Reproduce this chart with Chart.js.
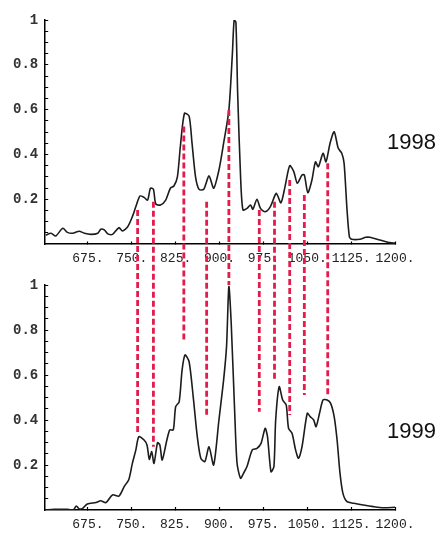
<!DOCTYPE html>
<html>
<head>
<meta charset="utf-8">
<script src="https://cdn.jsdelivr.net/npm/chart.js@4.4.1/dist/chart.umd.min.js"></script>
<style>
  body { margin: 0; background: #fff; }
  #wrap { position: relative; width: 440px; height: 533px; }
  #spectra { position: absolute; left: 0; top: 0; }
  .year { position: absolute; left: 387px; font: 22px "Liberation Sans", Arial, sans-serif; color: #111; }
</style>
</head>
<body>
<div id="wrap">
  <canvas id="spectra" width="440" height="533"></canvas>
  <div class="year" style="top:129px">1998</div>
  <div class="year" style="top:418px">1999</div>
</div>
<script>
const xTickValues = [675, 750, 825, 900, 975, 1050, 1125, 1200];
const yTickValues = [0.2, 0.4, 0.6, 0.8, 1];
const yTickLabels = ["0.2", "0.4", "0.6", "0.8", "1"];
const yMinorTicks = [0.05, 0.1, 0.15, 0.25, 0.3, 0.35, 0.45, 0.5, 0.55, 0.65, 0.7, 0.75, 0.85, 0.9, 0.95];

// 1998 spectrum
const wave1998 = [603, 612, 620, 632, 640, 649, 660, 669, 680, 692, 697, 703, 709, 717, 728, 734, 743, 751, 757, 764,
  771, 777, 782, 787, 791, 799, 808, 816, 822, 828, 833, 840, 848, 853, 859, 865, 873, 882, 890, 899,
  907, 916, 922, 925, 928, 931, 936, 940, 947, 953, 957, 964, 970, 978, 987, 997, 1005, 1012, 1020, 1027,
  1033, 1041, 1045, 1051, 1058, 1064, 1069, 1077, 1082, 1089, 1096, 1103, 1109, 1113, 1118, 1122, 1126, 1140, 1150, 1157,
  1174, 1191, 1200];
const int1998 = [0.04, 0.048, 0.036, 0.07, 0.052, 0.048, 0.057, 0.048, 0.043, 0.048, 0.066, 0.063, 0.045, 0.043, 0.073, 0.058, 0.077, 0.122, 0.167, 0.214,
  0.208, 0.196, 0.249, 0.244, 0.179, 0.174, 0.196, 0.249, 0.259, 0.30, 0.434, 0.583, 0.571, 0.45, 0.30, 0.244, 0.244, 0.304, 0.249, 0.33,
  0.45, 0.598, 0.85, 1.0, 0.99, 0.673, 0.30, 0.152, 0.159, 0.174, 0.155, 0.20, 0.159, 0.144, 0.167, 0.226, 0.184, 0.256, 0.35, 0.323,
  0.271, 0.308, 0.308, 0.229, 0.286, 0.367, 0.345, 0.405, 0.367, 0.45, 0.501, 0.427, 0.405, 0.36, 0.152, 0.033, 0.021, 0.021, 0.03, 0.03,
  0.018, 0.006, 0.004];

// 1999 spectrum
const wave1999 = [601, 617, 640, 650, 655, 660, 666, 674, 689, 697, 706, 717, 728, 737, 745, 751, 757, 762, 771, 776,
  780, 784, 788, 794, 798, 802, 810, 815, 821, 825, 831, 836, 841, 848, 855, 862, 868, 875, 882, 890,
  899, 907, 912, 916, 920, 926, 930, 936, 941, 947, 956, 964, 971, 978, 982, 988, 993, 996, 1002, 1008,
  1014, 1018, 1024, 1030, 1035, 1041, 1050, 1055, 1061, 1065, 1071, 1077, 1084, 1090, 1096, 1101, 1106, 1111, 1118, 1129,
  1146, 1163, 1180, 1200];
const int1999 = [0.0, 0.003, 0.003, 0.0, 0.018, 0.005, 0.007, 0.027, 0.033, 0.041, 0.033, 0.067, 0.062, 0.104, 0.136, 0.207, 0.267, 0.326, 0.311, 0.289,
  0.225, 0.259, 0.207, 0.299, 0.289, 0.222, 0.311, 0.356, 0.356, 0.459, 0.481, 0.622, 0.689, 0.659, 0.504, 0.326, 0.23, 0.215, 0.281, 0.20,
  0.40, 0.578, 0.726, 0.993, 0.83, 0.43, 0.207, 0.141, 0.163, 0.193, 0.267, 0.274, 0.296, 0.363, 0.326, 0.17, 0.193, 0.40, 0.548, 0.489,
  0.467, 0.363, 0.341, 0.267, 0.23, 0.281, 0.43, 0.415, 0.40, 0.37, 0.43, 0.489, 0.489, 0.474, 0.415, 0.311, 0.163, 0.074, 0.037, 0.03,
  0.022, 0.015, 0.01, 0.012];

// red dashed connectors: wavelength, start on 1998 scale, end on 1999 scale
const markerWave = [760, 787, 839, 878, 916, 968, 994, 1020, 1045, 1085];
const markerTop = [0.152, 0.189, 0.524, 0.189, 0.598, 0.152, 0.189, 0.286, 0.219, 0.36];
const markerBottom = [0.342, 0.281, 0.756, 0.422, 1.0, 0.437, 0.57, 0.422, 0.511, 0.504];

const monoFont = '"Liberation Mono", "Courier New", monospace';

const shiftLines = {
  id: "shiftLines",
  afterDraw(chart) {
    const { ctx, scales } = chart;
    ctx.save();
    ctx.strokeStyle = "#e21d4b";
    ctx.lineWidth = 2.8;
    ctx.setLineDash([6, 3]);
    markerWave.forEach((w, i) => {
      const x = scales.x.getPixelForValue(w);
      ctx.beginPath();
      ctx.moveTo(x, scales.yTop.getPixelForValue(markerTop[i]));
      ctx.lineTo(x, scales.yBot.getPixelForValue(markerBottom[i]));
      ctx.stroke();
    });
    ctx.restore();
  },
};

function xAxis(position) {
  return {
    type: "linear",
    min: 602,
    max: 1200,
    position: position,
    afterBuildTicks: (s) => {
      s.ticks = xTickValues.map((v) => ({ value: v }));
    },
    afterFit: (s) => {
      s.height = 23;
    },
    ticks: {
      autoSkip: false,
      maxRotation: 0,
      padding: 10,
      color: "#222",
      font: { family: monoFont, size: 13 },
      callback: (v) => v + ".",
    },
    grid: { drawOnChartArea: false, tickLength: -3, tickColor: "#000", tickWidth: 1.2 },
    border: { color: "#000", width: 1.5 },
  };
}

function yAxis(weight, stackWeight) {
  return {
    type: "linear",
    min: 0,
    max: 1,
    position: "left",
    stack: "v",
    stackWeight: stackWeight,
    weight: weight,
    afterBuildTicks: (s) => {
      s.ticks = yMinorTicks.concat(yTickValues).sort((a, b) => a - b).map((v) => ({ value: v }));
    },
    ticks: {
      autoSkip: false,
      padding: 10,
      color: "#333",
      font: { family: monoFont, size: 14, weight: "bold" },
      callback: (v) => {
        const i = yTickValues.indexOf(v);
        return i >= 0 ? yTickLabels[i] : "";
      },
    },
    grid: { drawOnChartArea: false, tickLength: -3, tickColor: "#000", tickWidth: 1 },
    border: { color: "#000", width: 1.5 },
  };
}

new Chart(document.getElementById("spectra"), {
  type: "line",
  data: {
    datasets: [
      {
        label: "1998",
        data: wave1998.map((w, i) => ({ x: w, y: int1998[i] })),
        xAxisID: "xTop",
        yAxisID: "yTop",
        borderColor: "#1c1c1c",
        borderWidth: 1.6,
        pointRadius: 0,
        tension: 0.25,
        fill: false,
      },
      {
        label: "1999",
        data: wave1999.map((w, i) => ({ x: w, y: int1999[i] })),
        xAxisID: "x",
        yAxisID: "yBot",
        borderColor: "#1c1c1c",
        borderWidth: 1.6,
        pointRadius: 0,
        tension: 0.25,
        fill: false,
      },
    ],
  },
  options: {
    responsive: false,
    animation: false,
    layout: { padding: { left: 3, right: 45, top: 20, bottom: 0 } },
    scales: {
      yTop: yAxis(3, 224),
      yGap: {
        type: "linear",
        position: "left",
        stack: "v",
        stackWeight: 41,
        weight: 2,
        ticks: { display: false },
        grid: { display: false, drawTicks: false },
        border: { display: false },
      },
      yBot: yAxis(1, 225),
      x: xAxis("bottom"),
      xTop: xAxis({ yTop: 0 }),
    },
    plugins: {
      legend: { display: false },
      tooltip: { enabled: false },
    },
  },
  plugins: [shiftLines],
});
</script>
</body>
</html>
